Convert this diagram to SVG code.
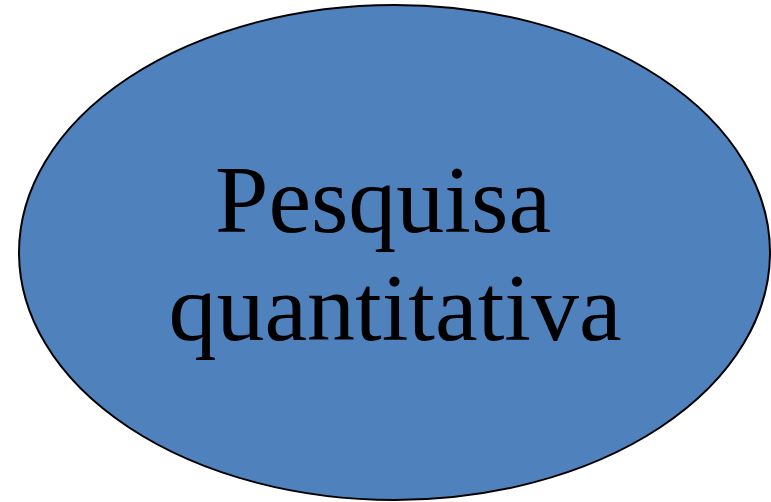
<svg xmlns="http://www.w3.org/2000/svg" width="771" height="502" viewBox="0 0 771 502">
<style>
.node{fill:#4F81BD;stroke:#000;stroke-width:2}
.lbl{font-family:"Liberation Serif","Times New Roman",serif;font-size:96px;fill:#000;text-anchor:middle}
</style>
<rect width="771" height="502" fill="#fff"/>
<g id="node-pesquisa">
<ellipse class="node" cx="394.5" cy="252.5" rx="375.5" ry="247.5"/>
<text class="lbl" x="383" y="232">Pesquisa</text>
<text class="lbl" x="395" y="340">quantitativa</text>
</g>
<g id="connectors"/>
</svg>
